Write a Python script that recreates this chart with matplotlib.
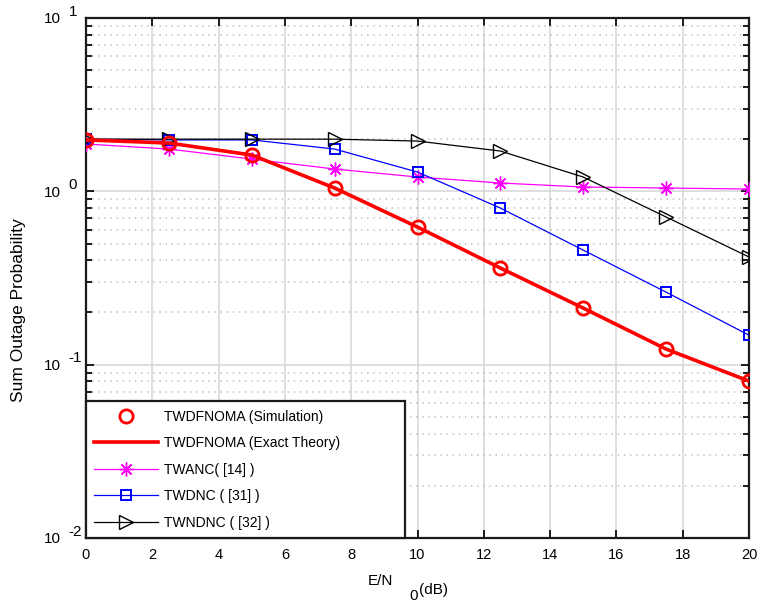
import numpy as np
import matplotlib
matplotlib.use("Agg")
import matplotlib.pyplot as plt
from matplotlib.ticker import LogLocator, NullFormatter, MultipleLocator

plt.rcParams["font.family"] = ["Liberation Sans", "DejaVu Sans"]

# ─── Data ────────────────────────────────────────────────────────────────────
snr_db = [0, 2.5, 5, 7.5, 10, 12.5, 15, 17.5, 20]

twdfnoma_sim = [1.98, 1.90, 1.62, 1.045, 0.622, 0.361, 0.212, 0.123, 0.0804]
twdfnoma_theory = [1.98, 1.90, 1.62, 1.045, 0.622, 0.361, 0.212, 0.123, 0.0804]
twanc = [1.875, 1.754, 1.535, 1.345, 1.209, 1.117, 1.059, 1.045, 1.031]
twdnc = [2.00, 1.98, 1.98, 1.754, 1.292, 0.801, 0.458, 0.262, 0.148]
twndnc = [2.00, 2.00, 2.00, 2.00, 1.95, 1.708, 1.209, 0.711, 0.418]

labels = ["TWDFNOMA (Simulation)", "TWDFNOMA (Exact Theory)",
          "TWANC( [14] )", "TWDNC ( [31] )", "TWNDNC ( [32] )"]

x_ticks = [0, 2, 4, 6, 8, 10, 12, 14, 16, 18, 20]
y_decades = [1e-2, 1e-1, 1e0, 1e1]
y_exps = ["-2", "-1", "0", "1"]

# ─── Figure ──────────────────────────────────────────────────────────────────
fig = plt.figure(figsize=(7.7, 6.11), dpi=100, facecolor="white")
ax = fig.add_axes([86 / 770, 73 / 611, 663 / 770, 520 / 611])

ax.set_yscale("log")
ax.set_xlim(0, 20)
ax.set_ylim(1e-2, 1e1)

# grid
ax.xaxis.set_major_locator(MultipleLocator(2))
ax.yaxis.set_major_locator(LogLocator(base=10, numticks=10))
ax.yaxis.set_minor_locator(LogLocator(base=10, subs=np.arange(2, 10), numticks=20))
ax.yaxis.set_minor_formatter(NullFormatter())
ax.grid(True, which="major", axis="both", color="#d6d6d6", lw=1.1, ls="-", zorder=0)
ax.grid(True, which="minor", axis="y", color="#c0c0c0", lw=1.1, ls=(0, (1, 3)), zorder=0)
ax.set_axisbelow(True)

# curves
h_sim, = ax.plot(snr_db, twdfnoma_sim, ls="none", marker="o", ms=9.5,
                 mfc="none", mec="red", mew=2.0, zorder=5)
h_th, = ax.plot(snr_db, twdfnoma_theory, color="red", lw=2.6, zorder=4)
h_anc, = ax.plot(snr_db, twanc, color="magenta", lw=0.9, marker=(8, 2, 0),
                 ms=10, mec="magenta", mew=1.0, zorder=3)
h_dnc, = ax.plot(snr_db, twdnc, color="blue", lw=0.9, marker="s", ms=7,
                 mfc="none", mec="blue", mew=1.4, zorder=3)
h_ndnc, = ax.plot(snr_db, twndnc, color="black", lw=0.9, marker=">", ms=10,
                  mfc="none", mec="black", mew=1.0, zorder=3)

# spines / ticks
for s in ax.spines.values():
    s.set_linewidth(1.6)
    s.set_color("#1a1a1a")
ax.tick_params(which="both", direction="in", top=True, right=True, width=1.4,
               color="#1a1a1a")
ax.tick_params(which="major", length=5.5)
ax.tick_params(which="minor", length=4)
ax.tick_params(axis="x", which="major", labelsize=10.5, pad=7)

ax.set_xticks(x_ticks)
ax.set_xticklabels([str(t) for t in x_ticks])

# MATLAB-like y tick labels "10" with spaced exponent
ax.set_yticklabels([])
for v, e in zip(y_decades, y_exps):
    ax.annotate("10", xy=(0, v), xycoords=("axes fraction", "data"),
                xytext=(-18, -1), textcoords="offset points",
                ha="right", va="center", fontsize=11)
    ax.annotate(e, xy=(0, v), xycoords=("axes fraction", "data"),
                xytext=(-12.5, 4.5), textcoords="offset points",
                ha="left", va="center", fontsize=11)

fig.text(19 / 770, 1 - 310 / 611, "Sum Outage Probability", fontsize=12.5,
         rotation=90, ha="center", va="center")

# x label with subscript 0
fig.text(393 / 770, 1 - 581 / 611, "E/N", fontsize=11, ha="right", va="center")
fig.text(409 / 770, 1 - 596 / 611, "0", fontsize=11, ha="left", va="center")
fig.text(419 / 770, 1 - 590 / 611, "(dB)", fontsize=11, ha="left", va="center")

leg = ax.legend([h_sim, h_th, h_anc, h_dnc, h_ndnc], labels,
                loc="lower left", bbox_to_anchor=(0, 0, 319 / 663, 0.3),
                mode="expand", borderaxespad=0, fontsize=10, frameon=True,
                fancybox=False, edgecolor="#1a1a1a", framealpha=1,
                handlelength=4.6, handletextpad=0.4, labelspacing=0.9,
                borderpad=0.6)
leg.get_frame().set_linewidth(1.6)
leg.set_zorder(10)

fig.savefig("out.png", dpi=100, facecolor="white")
